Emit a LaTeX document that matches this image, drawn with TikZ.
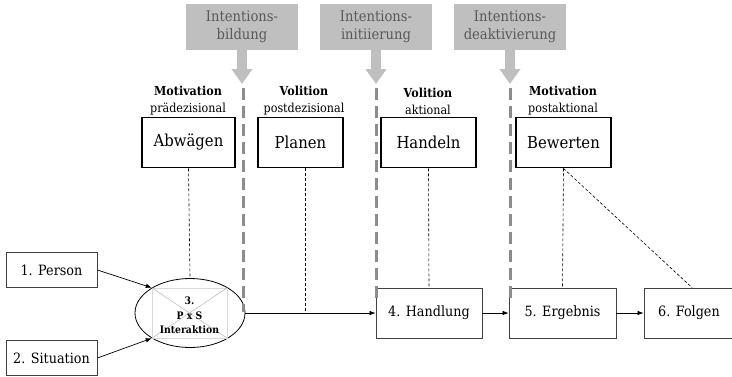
\documentclass[tikz,border=0pt]{standalone}
\usepackage{fontspec}
\setmainfont{DejaVu Serif}[FakeStretch=0.9]
\usetikzlibrary{arrows.meta,shapes.geometric}
\definecolor{boxgray}{HTML}{BFBFBF}
\definecolor{txtgray}{HTML}{595959}
\definecolor{linegray}{HTML}{8C8C8C}
\definecolor{edgegray}{HTML}{404040}
\tikzset{
  phasebox/.style={draw=black, line width=1.8pt, minimum width=93pt, minimum height=50pt, inner sep=0pt, font=\fontsize{16.5}{20}\selectfont},
  transbox/.style={fill=boxgray, minimum width=112pt, minimum height=46pt, inner sep=0pt, align=center, text=txtgray, font=\fontsize{14.6}{18}\selectfont},
  transarrow/.style={draw=boxgray, line width=10pt, -{Triangle[width=20pt,length=15pt]}},
  phaseline/.style={draw=linegray, line width=3pt, dash pattern=on 12pt off 6pt},
  thinline/.style={draw=black, line width=0.6pt, dash pattern=on 3pt off 2pt},
  stepbox/.style={draw=edgegray, line width=0.8pt, minimum height=50pt, inner sep=0pt, font=\fontsize{14.2}{16}\selectfont},
  inbox/.style={draw=edgegray, line width=0.8pt, minimum width=91pt, minimum height=35pt, inner sep=0pt, font=\fontsize{14.2}{16}\selectfont},
  headlab/.style={align=center, inner sep=0pt, font=\fontsize{12.4}{17}\selectfont},
  flow/.style={draw=black, line width=0.7pt, -{Latex[length=6pt,width=4.5pt]}},
}
\begin{document}
\begin{tikzpicture}[x=1pt,y=-1pt]
\useasboundingbox (0,0) rectangle (732,376);

% transition boxes and their arrows
\node[transbox] (g1) at (242,27) {Intentions-\\bildung};
\node[transbox] (g2) at (376,27) {Intentions-\\initiierung};
\node[transbox] (g3) at (510,27) {Intentions-\\deaktivierung};
\coordinate (t1) at (242,84);
\coordinate (t2) at (376,84);
\coordinate (t3) at (510,84);
\draw[transarrow] (g1.south) -- (t1);
\draw[transarrow] (g2.south) -- (t2);
\draw[transarrow] (g3.south) -- (t3);

% phase headings
\node[headlab] (h1) at (188,101) {\textbf{Motivation}\\prädezisional};
\node[headlab] (h2) at (304,101) {\textbf{Volition}\\postdezisional};
\node[headlab] (h3) at (428,101) {\textbf{Volition}\\aktional};
\node[headlab] (h4) at (563,101) {\textbf{Motivation}\\postaktional};

% phase boxes
\node[phasebox] (p1) at (188.5,142.5) {Abwägen};
\node[phasebox, minimum width=85pt] (p2) at (300.5,142.5) {Planen};
\node[phasebox, minimum width=95pt] (p3) at (428.5,142.5) {Handeln};
\node[phasebox, minimum width=95pt] (p4) at (563.5,142.5) {Bewerten};

% lower chain
\node[inbox] (s1) at (51.5,270) {1. Person};
\node[inbox] (s2) at (51.5,358) {2. Situation};
\node[draw=black, line width=0.8pt, ellipse, minimum width=110pt, minimum height=69pt, inner sep=0pt] (ia) at (190,313) {};
\node[draw=black!15, line width=0.6pt, minimum width=75pt, minimum height=50pt, inner sep=0pt] (ir) at (189.5,313) {};
\draw[black!25, line width=0.6pt] (ir.north west) -- (ir.south east);
\draw[black!25, line width=0.6pt] (ir.north east) -- (ir.south west);
\node[align=center, inner sep=0pt, font=\bfseries\fontsize{10.3}{14.5}\selectfont] (it) at (189.5,315.5) {3.\\P x S\\Interaktion};
\node[stepbox, minimum width=106pt] (s4) at (429,313) {4. Handlung};
\node[stepbox, minimum width=107pt] (s5) at (562.5,313) {5. Ergebnis};
\node[stepbox, minimum width=90pt] (s6) at (689,313) {6. Folgen};

% phase borders
\coordinate (b1a) at (243,88);  \coordinate (b1b) at (243,312);
\coordinate (b2a) at (376,88);  \coordinate (b2b) at (376,302);
\coordinate (b3a) at (510,88);  \coordinate (b3b) at (510,302);
\draw[phaseline] (b1a) -- (b1b);
\draw[phaseline] (b2a) -- (b2b);
\draw[phaseline] (b3a) -- (b3b);

% links from the phases to the chain
\coordinate (j1) at (305,313);
\draw[thinline] (p1.south) -- (ia.north);
\draw[thinline] ([xshift=4.5pt]p2.south) -- (j1);
\draw[thinline] (p3.south) -- (s4.north);
\draw[thinline] (p4.south) -- (s5.north);
\draw[thinline] (p4.south) -- ([xshift=3pt]s6.north);

% flow arrows
\draw[flow] (s1.east) -- (ir.north west);
\draw[flow] (s2.east) -- (ir.south west);
\draw[flow] (ia.east) -- (s4.west);
\draw[flow] (s4.east) -- (s5.west);
\draw[flow] (s5.east) -- (s6.west);
\end{tikzpicture}
\end{document}
